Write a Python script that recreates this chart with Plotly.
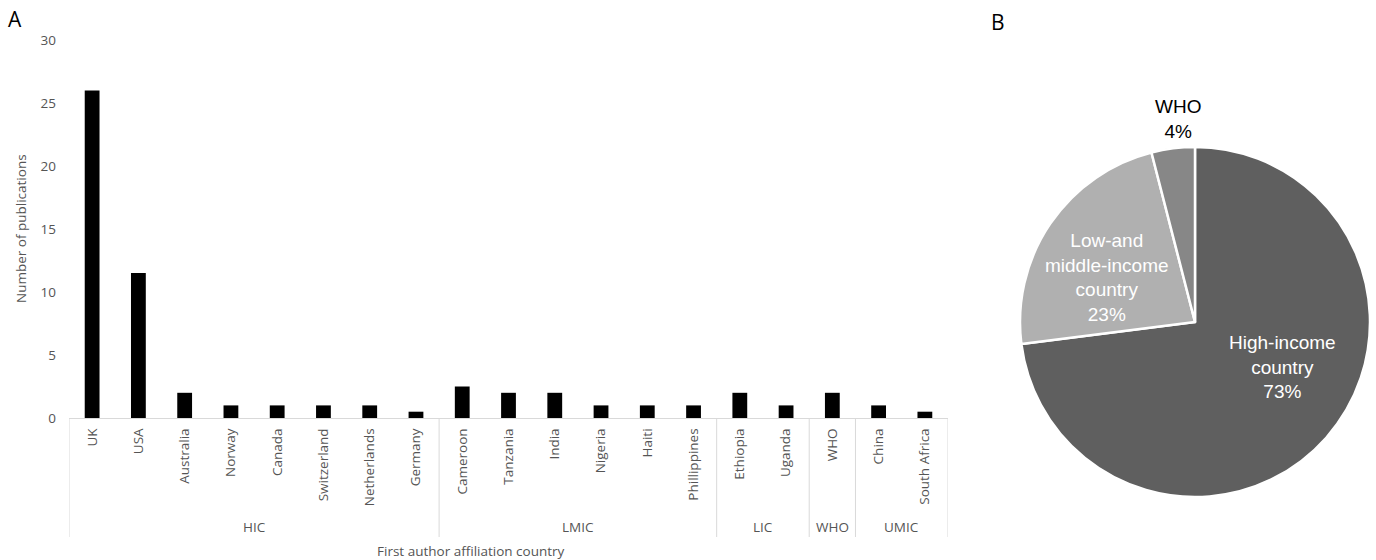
import plotly.graph_objects as go

# ---- data ----
countries = ["UK", "USA", "Australia", "Norway", "Canada", "Switzerland", "Netherlands", "Germany",
             "Cameroon", "Tanzania", "India", "Nigeria", "Haiti", "Phillippines",
             "Ethiopia", "Uganda", "WHO", "China", "South Africa"]
publications = [26, 11.5, 2, 1, 1, 1, 1, 0.5,
                2.5, 2, 2, 1, 1, 1,
                2, 1, 2, 1, 0.5]
groups = ["HIC", "LMIC", "LIC", "WHO", "UMIC"]
group_sizes = [8, 6, 2, 1, 2]
y_ticks = [0, 5, 10, 15, 20, 25, 30]

pie_labels = ["High-income<br>country", "Low-and<br>middle-income<br>country", "WHO"]
pie_values = [73, 23, 4]
pie_colors = ["#5f5f5f", "#b0b0b0", "#878787"]

W, H = 1376, 560
FONT = "Open Sans"
GREY = "#555555"
LINE = "#d9d9d9"
FS = 13.5

def px_x(p):
    return p / W

def px_y(p):
    return (H - p) / H

fig = go.Figure()
fig.add_trace(go.Bar(x=countries, y=publications, marker=dict(color="black", line=dict(width=0)),
                     showlegend=False, hoverinfo="x+y"))

fig.add_trace(go.Pie(values=pie_values, labels=pie_labels, sort=False, direction="clockwise",
                     rotation=0, marker=dict(colors=pie_colors, line=dict(color="white", width=2.5)),
                     textinfo="none", showlegend=False,
                     domain=dict(x=[px_x(1195 - 175), px_x(1195 + 175)],
                                 y=[px_y(322 + 175), px_y(322 - 175)])))

fig.update_layout(
    width=W, height=H,
    margin=dict(l=0, r=0, t=0, b=0),
    paper_bgcolor="white", plot_bgcolor="white",
    bargap=0.68,
    font=dict(family=FONT, color=GREY, size=FS),
    xaxis=dict(domain=[px_x(69), px_x(948)], type="category", range=[-0.5, len(countries) - 0.5],
               tickangle=-90, showgrid=False, showline=True, linecolor=LINE, linewidth=1,
               ticks="", tickfont=dict(family=FONT, size=FS, color=GREY), automargin=False,
               ticklabelstandoff=4),
    yaxis=dict(domain=[px_y(418), px_y(40)], range=[0, 30], tickvals=y_ticks, showgrid=False,
               showline=False, zeroline=False, ticks="", automargin=False,
               tickfont=dict(family=FONT, size=FS, color=GREY), ticklabelstandoff=12),
)

shapes = []
annotations = []
# group dividers and labels
start = 0
bounds = [0]
for g, n in zip(groups, group_sizes):
    start += n
    bounds.append(start)
for b in bounds:
    shapes.append(dict(type="line", xref="x", yref="paper", x0=b - 0.5, x1=b - 0.5,
                       y0=px_y(537), y1=px_y(418), line=dict(color=LINE, width=1)))
for i, g in enumerate(groups):
    c = (bounds[i] + bounds[i + 1] - 1) / 2
    annotations.append(dict(text=g, xref="x", yref="paper", x=c, y=px_y(527), showarrow=False,
                            font=dict(family=FONT, size=FS, color=GREY), xanchor="center", yanchor="middle"))

annotations += [
    dict(text="First author affiliation country", xref="paper", yref="paper", x=px_x(471), y=px_y(551),
         showarrow=False, font=dict(family=FONT, size=FS, color=GREY), xanchor="center", yanchor="middle"),
    dict(text="Number of publications", xref="paper", yref="paper", x=px_x(21), y=px_y(229),
         textangle=-90, showarrow=False, font=dict(family=FONT, size=FS, color=GREY),
         xanchor="center", yanchor="middle"),
    dict(text="A", xref="paper", yref="paper", x=px_x(15), y=px_y(19), showarrow=False,
         font=dict(family=FONT, size=21, color="black"), xanchor="center", yanchor="middle"),
    dict(text="B", xref="paper", yref="paper", x=px_x(998), y=px_y(22), showarrow=False,
         font=dict(family=FONT, size=21, color="black"), xanchor="center", yanchor="middle"),
]

# pie labels
pie_label_pos = [(1282, 367, "white"), (1107, 277, "white"), (1178, 119, "black")]
for lab, val, (px, py, col) in zip(pie_labels, pie_values, pie_label_pos):
    annotations.append(dict(text=f"{lab}<br>{val}%", xref="paper", yref="paper", x=px_x(px), y=px_y(py),
                            showarrow=False, xanchor="center", yanchor="middle",
                            font=dict(family="Liberation Sans", size=19, color=col)))

fig.update_layout(shapes=shapes, annotations=annotations)
fig.write_html("out.html")
